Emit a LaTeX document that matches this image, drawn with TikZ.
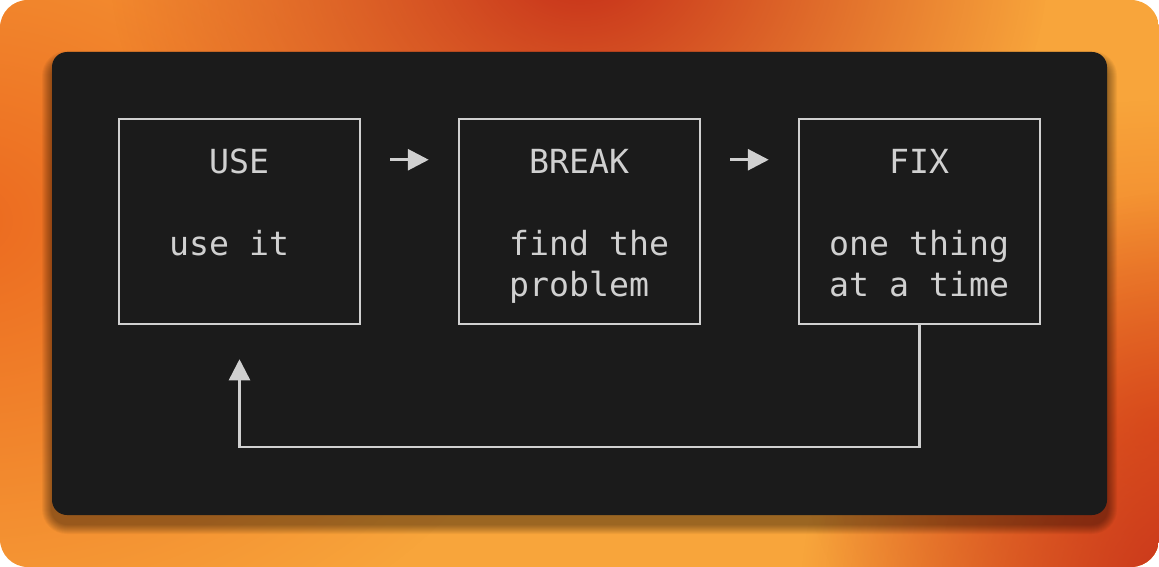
\documentclass[tikz,border=0pt]{standalone}
\usepackage{fontspec}
\setmonofont{DejaVu Sans Mono}
\usetikzlibrary{arrows.meta,positioning,calc,fadings}
\definecolor{panel}{HTML}{1B1B1B}
\definecolor{ink}{HTML}{D0D0D0}
\definecolor{sunlight}{HTML}{F8A53B}
\definecolor{sunmid}{HTML}{EC6A20}
\definecolor{sunred}{HTML}{C62E19}
\tikzfading[name=blob, inner color=transparent!0, outer color=transparent!100]

\begin{document}
\begin{tikzpicture}[x=1pt,y=-1pt,>=Latex,
  bx/.style={draw=ink,line width=2.5pt,minimum width=241pt,minimum height=205pt,inner sep=0pt},
  tx/.style={anchor=base west,inner sep=0pt,text=ink,font=\fontsize{33.2}{41}\selectfont\ttfamily},
  a/.style={-{Triangle[length=21pt,width=21pt]},line width=3pt,ink,shorten <=29pt,shorten >=29pt},
  back/.style={-{Triangle[length=21pt,width=21pt]},line width=2.5pt,ink,shorten >=34pt}]
\useasboundingbox (0,0) rectangle (1159,567);
% backdrop
\begin{scope}
\clip[rounded corners=28pt] (0,0) rectangle (1159,567);
\fill[sunlight] (0,0) rectangle (1159,567);
\fill[sunmid,path fading=blob] (-40,220) ellipse (620 and 480);
\fill[sunmid,path fading=blob] (1159,430) ellipse (360 and 330);
\fill[sunred,path fading=blob] (580,-40) ellipse (470 and 380);
\fill[sunred,path fading=blob] (1200,610) ellipse (400 and 420);
\end{scope}
% panel with shadow
\foreach \i in {1,...,10}
  \fill[black,opacity=0.045,rounded corners=15pt+\i pt] (52-\i,52-\i+9) rectangle (1107+\i,515+\i+9);
\fill[panel,rounded corners=15pt] (52,52) rectangle (1107,515);
% boxes
\node[bx] (use) at (239.5,221.5) {};
\node[bx] (brk) at (579.5,221.5) {};
\node[bx] (fix) at (919.5,221.5) {};
\node[tx] (use-t) at (209,173) {USE};
\node[tx] (use-b) at (169,255) {use it};
\node[tx] (brk-t) at (529,173) {BREAK};
\node[tx] (brk-b1) at (509,255) {find the};
\node[tx] (brk-b2) at (509,296) {problem};
\node[tx] (fix-t) at (889,173) {FIX};
\node[tx] (fix-b1) at (829,255) {one thing};
\node[tx] (fix-b2) at (829,296) {at a time};
% flow
\draw[a] ([yshift=-42pt]use.north east) -- ([yshift=-42pt]brk.north west);
\draw[a] ([yshift=-42pt]brk.north east) -- ([yshift=-42pt]fix.north west);
\coordinate (loop) at (579.5,447);
\draw[back] (fix.south) |- (loop) -| (use.south);
\end{tikzpicture}
\end{document}
